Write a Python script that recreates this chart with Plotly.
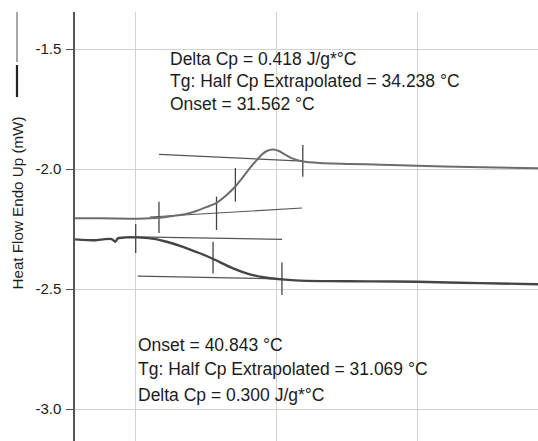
import plotly.graph_objects as go

# ---- data (temperature in °C, heat flow in mW) ----
temp_upper = [11.5, 15.0, 19.3, 21.4, 23.4, 25.0, 26.4, 27.8, 28.8, 30.2, 31.5, 33.0, 34.2,
              35.2, 35.9, 36.6, 37.3, 38.0, 38.7, 39.6, 40.4, 41.3, 42.3, 43.8, 46.2, 50.5,
              55.0, 60.0, 67.5, 77.2]
heat_upper = [-2.205, -2.205, -2.207, -2.206, -2.203, -2.197, -2.192, -2.183, -2.174, -2.158,
              -2.142, -2.108, -2.074, -2.038, -2.011, -1.985, -1.962, -1.940, -1.925, -1.919,
              -1.925, -1.940, -1.956, -1.969, -1.975, -1.979, -1.982, -1.986, -1.992, -1.997]

temp_lower = [11.5, 14.3, 15.7, 16.7, 17.2, 17.6, 18.6, 20.3, 21.4, 23.1, 24.5, 26.8, 29.2,
              31.1, 33.9, 36.3, 38.7, 40.85, 43.4, 47.2, 53.3, 60.0, 66.1, 71.8, 77.2]
heat_lower = [-2.293, -2.297, -2.292, -2.292, -2.303, -2.288, -2.285, -2.285, -2.287, -2.293,
              -2.303, -2.324, -2.351, -2.375, -2.414, -2.439, -2.453, -2.460, -2.465, -2.467,
              -2.468, -2.470, -2.474, -2.477, -2.480]

# analysis markers (vertical ticks): temperature, top, bottom
upper_mark_t = [23.4, 31.562, 34.238, 43.8]
upper_mark_top = [-2.136, -2.115, -1.996, -1.900]
upper_mark_bot = [-2.267, -2.254, -2.136, -2.032]

lower_mark_t = [20.1, 31.069, 40.843]
lower_mark_top = [-2.229, -2.303, -2.390]
lower_mark_bot = [-2.350, -2.435, -2.525]

# tangent (extrapolated baseline) lines: start T, end T, start value, end value
tangent_t0 = [23.4, 22.1, 20.1, 20.4]
tangent_t1 = [43.8, 43.7, 40.85, 40.85]
tangent_v0 = [-1.939, -2.200, -2.283, -2.446]
tangent_v1 = [-1.967, -2.1625, -2.293, -2.458]

y_ticks = [-1.5, -2.0, -2.5, -3.0]
y_tick_labels = ["-1.5", "-2.0", "-2.5", "-3.0"]
x_grid = [20, 40, 60, 80]

upper_text = ["Delta Cp = 0.418 J/g*°C",
              "Tg: Half Cp Extrapolated = 34.238 °C",
              "Onset = 31.562 °C"]
lower_text = ["Onset = 40.843 °C",
              "Tg: Half Cp Extrapolated = 31.069 °C",
              "Delta Cp = 0.300 J/g*°C"]

FONT = "Liberation Sans, Arial, sans-serif"

fig = go.Figure()

# tangent lines
tx, ty = [], []
for a, b, c, d in zip(tangent_t0, tangent_t1, tangent_v0, tangent_v1):
    tx += [a, b, None]
    ty += [c, d, None]
fig.add_trace(go.Scatter(x=tx, y=ty, mode="lines",
                         line=dict(color="#555555", width=1.2), hoverinfo="skip"))

# marker ticks
mx, my = [], []
for t, a, b in zip(upper_mark_t + lower_mark_t, upper_mark_top + lower_mark_top,
                   upper_mark_bot + lower_mark_bot):
    mx += [t, t, None]
    my += [a, b, None]
fig.add_trace(go.Scatter(x=mx, y=my, mode="lines",
                         line=dict(color="#444444", width=1.3), hoverinfo="skip"))

# curves
fig.add_trace(go.Scatter(x=temp_upper, y=heat_upper, mode="lines",
                         line=dict(color="#6c6c6c", width=2, shape="spline", smoothing=0.6)))
fig.add_trace(go.Scatter(x=temp_lower, y=heat_lower, mode="lines",
                         line=dict(color="#454545", width=2.4, shape="spline", smoothing=0.5)))

# text blocks
upper_y = [-1.5417, -1.6333, -1.7292]
for txt, yy in zip(upper_text, upper_y):
    fig.add_annotation(x=24.68, y=yy, text=txt, showarrow=False, xanchor="left",
                       yanchor="middle", font=dict(family=FONT, size=17.5, color="#1c1c1c"))
lower_y = [-2.7333, -2.8333, -2.9417]
for txt, yy in zip(lower_text, lower_y):
    fig.add_annotation(x=20.14, y=yy, text=txt, showarrow=False, xanchor="left",
                       yanchor="middle", font=dict(family=FONT, size=17.5, color="#1c1c1c"))

# y-axis title with legend line
fig.add_annotation(xref="paper", yref="paper", x=-0.1231, y=0.5536,
                   text="Heat Flow Endo Up (mW)", textangle=-90, showarrow=False,
                   xanchor="center", yanchor="middle",
                   font=dict(family=FONT, size=15.2, color="#1c1c1c"))
fig.add_shape(type="line", xref="paper", yref="paper", x0=-0.1253, x1=-0.1253,
              y0=1.0, y1=0.8834, line=dict(color="#777777", width=1.3))
fig.add_shape(type="line", xref="paper", yref="paper", x0=-0.1253, x1=-0.1253,
              y0=0.8765, y1=0.8019, line=dict(color="#222222", width=2.2))

fig.update_layout(
    width=538, height=441,
    margin=dict(l=75, r=0, t=12, b=0),
    plot_bgcolor="white", paper_bgcolor="white",
    showlegend=False,
    xaxis=dict(range=[11.49, 77.16], tickvals=x_grid, showticklabels=False,
               showgrid=True, gridcolor="#d2d2d2", gridwidth=1,
               zeroline=False, showline=False, ticks=""),
    yaxis=dict(range=[-3.1333, -1.3458], tickvals=y_ticks, ticktext=y_tick_labels,
               showgrid=True, gridcolor="#d2d2d2", gridwidth=1,
               zeroline=False, showline=True, linecolor="#555555", linewidth=1.5,
               ticks="outside", ticklen=7, tickcolor="#555555", tickwidth=1.2,
               ticklabelstandoff=2,
               tickfont=dict(family=FONT, size=15, color="#1c1c1c")),
)

fig.write_html("out.html", config={"displayModeBar": False},
               post_script="document.body.style.margin='0';document.body.style.overflow='hidden';")
